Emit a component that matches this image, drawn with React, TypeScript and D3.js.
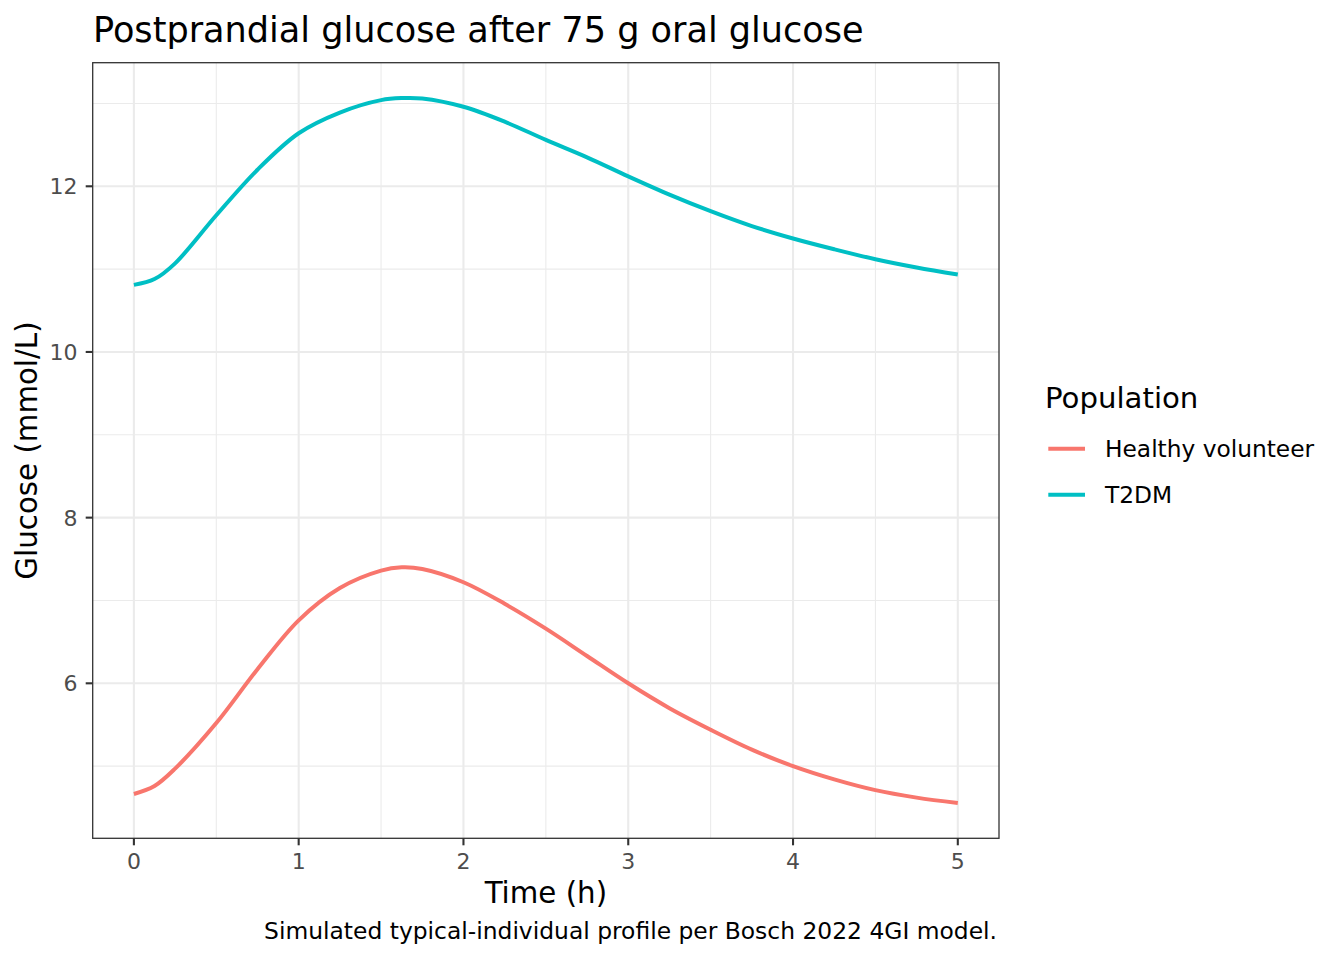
import React from "react";
import * as d3 from "d3";

const times = [0, 0.125, 0.25, 0.5, 0.75, 1.0, 1.25, 1.5, 1.625, 1.75, 2.0, 2.25, 2.5, 2.75, 3.0, 3.25, 3.5, 3.75, 4.0, 4.25, 4.5, 4.75, 5.0];
const healthy = [4.664, 4.76, 4.97, 5.52, 6.17, 6.76, 7.15, 7.36, 7.40, 7.38, 7.22, 6.96, 6.66, 6.33, 6.0, 5.7, 5.44, 5.2, 5.0, 4.84, 4.71, 4.62, 4.555];
const t2dm = [10.81, 10.88, 11.07, 11.65, 12.2, 12.64, 12.89, 13.04, 13.065, 13.06, 12.96, 12.78, 12.56, 12.35, 12.12, 11.9, 11.7, 11.52, 11.37, 11.24, 11.12, 11.02, 10.935];

const seriesNames = ["Healthy volunteer", "T2DM"];
const seriesColors = ["#F8766D", "#00BFC4"];
const xMajor = [0, 1, 2, 3, 4, 5];
const xMinor = [0.5, 1.5, 2.5, 3.5, 4.5];
const yMajor = [6, 8, 10, 12];
const yMinor = [5, 7, 9, 11, 13];

const title = "Postprandial glucose after 75 g oral glucose";
const xTitle = "Time (h)";
const yTitle = "Glucose (mmol/L)";
const caption = "Simulated typical-individual profile per Bosch 2022 4GI model.";
const legendTitle = "Population";

const FONT = "DejaVu Sans, sans-serif";

export default function App() {
  const W = 1344, H = 960;
  const pL = 92.7, pR = 999, pT = 62.7, pB = 838.3;
  const x = d3.scaleLinear().domain([-0.25, 5.25]).range([pL, pR]);
  const y = d3.scaleLinear().domain([4.129, 13.492]).range([pB, pT]);
  const all = [healthy, t2dm];
  const line = d3.line<number>()
    .x((_, i) => x(times[i]))
    .y((d) => y(d))
    .curve(d3.curveCatmullRom.alpha(0.5));

  return (
    <svg width={W} height={H} style={{ position: "absolute", left: 0, top: 0, background: "#fff" }} fontFamily={FONT}>
      <rect x={0} y={0} width={W} height={H} fill="#fff" />
      <text x={93} y={41.7} fontSize={35.1} fill="#000">{title}</text>
      <rect x={pL} y={pT} width={pR - pL} height={pB - pT} fill="#fff" />
      {xMinor.map((v) => (
        <line key={"xm" + v} x1={x(v)} x2={x(v)} y1={pT} y2={pB} stroke="#EBEBEB" strokeWidth={1.1} />
      ))}
      {yMinor.map((v) => (
        <line key={"ym" + v} x1={pL} x2={pR} y1={y(v)} y2={y(v)} stroke="#EBEBEB" strokeWidth={1.1} />
      ))}
      {xMajor.map((v) => (
        <line key={"xM" + v} x1={x(v)} x2={x(v)} y1={pT} y2={pB} stroke="#EBEBEB" strokeWidth={2.1} />
      ))}
      {yMajor.map((v) => (
        <line key={"yM" + v} x1={pL} x2={pR} y1={y(v)} y2={y(v)} stroke="#EBEBEB" strokeWidth={2.1} />
      ))}
      {all.map((s, i) => (
        <path key={seriesNames[i]} d={line(s) || ""} fill="none" stroke={seriesColors[i]} strokeWidth={4} />
      ))}
      <rect x={pL} y={pT} width={pR - pL} height={pB - pT} fill="none" stroke="#333333" strokeWidth={1.3} />
      {xMajor.map((v) => (
        <g key={"xt" + v}>
          <line x1={x(v)} x2={x(v)} y1={pB} y2={pB + 7} stroke="#333333" strokeWidth={2.1} />
          <text x={x(v)} y={869.3} fontSize={22} fill="#4D4D4D" textAnchor="middle">{v}</text>
        </g>
      ))}
      {yMajor.map((v) => (
        <g key={"yt" + v}>
          <line x1={pL - 7} x2={pL} y1={y(v)} y2={y(v)} stroke="#333333" strokeWidth={2.1} />
          <text x={77.5} y={y(v)} dy="0.36em" fontSize={22} fill="#4D4D4D" textAnchor="end">{v}</text>
        </g>
      ))}
      <text x={(pL + pR) / 2} y={902.7} fontSize={29.3} fill="#000" textAnchor="middle">{xTitle}</text>
      <text transform={`translate(36.7,${(pT + pB) / 2}) rotate(-90)`} fontSize={29.3} fill="#000" textAnchor="middle">{yTitle}</text>
      <text x={997} y={939.3} fontSize={23.4} fill="#000" textAnchor="end">{caption}</text>
      <text x={1045} y={407.7} fontSize={29.2} fill="#000">{legendTitle}</text>
      {seriesNames.map((n, i) => (
        <g key={"lg" + n}>
          <line x1={1048.3} x2={1085} y1={448.7 + i * 46} y2={448.7 + i * 46} stroke={seriesColors[i]} strokeWidth={4} />
          <text x={1105} y={457.3 + i * 46} fontSize={23.3} fill="#000">{n}</text>
        </g>
      ))}
    </svg>
  );
}
